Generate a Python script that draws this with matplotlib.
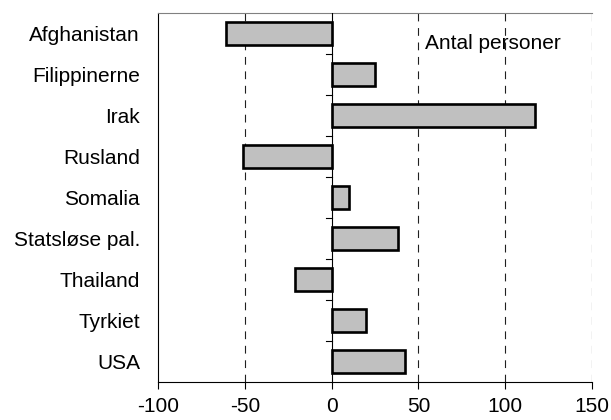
import matplotlib.pyplot as plt
from matplotlib.ticker import FixedLocator

# Data
countries = ["Afghanistan", "Filippinerne", "Irak", "Rusland", "Somalia",
             "Statsløse pal.", "Thailand", "Tyrkiet", "USA"]
values = [-61, 25, 117, -51, 10, 38, -21, 20, 42]
xTicks = [-100, -50, 0, 50, 100, 150]
gridPositions = [-50, 50, 100, 150]

plt.rcParams.update({'font.family': ['Liberation Sans', 'DejaVu Sans'], 'font.size': 15})

fig = plt.figure(figsize=(6.11, 4.2), dpi=100)
ax = fig.add_axes([158/611, 1 - 382/420, (592-158)/611, (382-13)/420])

positions = list(range(len(countries)))
ax.barh(positions, values, height=0.54, color="#c0c0c0", edgecolor="black", linewidth=1.9, zorder=3)

ax.set_xlim(-100, 150)
ax.set_ylim(len(countries) - 0.5, -0.5)

# Dashed gridlines
for g in gridPositions:
    ax.axvline(g, color="#202020", linestyle=(0, (7, 6)), linewidth=0.8, zorder=1)

# Category axis sitting at zero, with ticks between categories
ax.axvline(0, color="black", linewidth=0.8, zorder=4)
for b in range(1, len(countries)):
    ax.plot([-3.5, 0], [b - 0.5, b - 0.5], color="black", linewidth=0.8, zorder=4, clip_on=False)

ax.set_yticks(positions)
ax.set_yticklabels(countries)
ax.tick_params(axis="y", length=0, pad=13)

ax.xaxis.set_major_locator(FixedLocator(xTicks))
ax.set_xticklabels([str(t) for t in xTicks])
ax.tick_params(axis="x", direction="out", length=5, width=0.8, pad=6)

ax.spines["right"].set_visible(False)
ax.spines["top"].set_color("#808080")
ax.spines["left"].set_linewidth(0.8)
ax.spines["bottom"].set_linewidth(0.8)

ax.text(0.615, 0.918, "Antal personer", transform=ax.transAxes, fontsize=15, va="center", ha="left")

fig.savefig("out.png", dpi=100)
